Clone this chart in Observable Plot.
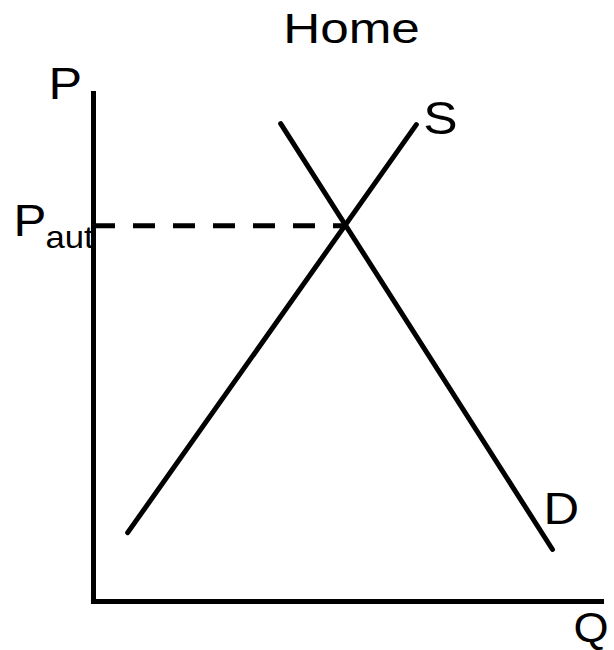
<!DOCTYPE html>
<html><head><meta charset="utf-8">
<script src="https://cdn.jsdelivr.net/npm/d3@7"></script>
<script src="https://cdn.jsdelivr.net/npm/@observablehq/plot@0.6"></script>
<style>body{margin:0;background:#fff} svg{display:block}</style>
</head><body><div id="chart"></div>
<script>
const title = "Home";
const supplyQ = [0.67, 6.33];
const supplyP = [1.35, 9.35];
const demandQ = [3.67, 9.0];
const demandP = [9.37, 1.02];
const pAut = 7.37;
const qAut = 4.92;
const qMax = 10;
const pMax = 10;
const labelP = "P", labelQ = "Q", labelS = "S", labelD = "D", labelAut = "aut";

const supply = supplyQ.map((q, i) => ({q, p: supplyP[i]}));
const demand = demandQ.map((q, i) => ({q, p: demandP[i]}));
const font = "Liberation Sans, Arial, Helvetica, sans-serif";
const last = a => a[a.length - 1];

const chart = Plot.plot({
  width: 614, height: 650, margin: 0,
  style: {background: "white", fontFamily: font},
  x: {domain: [-93/51, 521/51], axis: null},
  y: {domain: [-49/51, 601/51], axis: null},
  marks: [
    Plot.ruleX([0], {y1: -0.04, y2: pMax, stroke: "black", strokeWidth: 5}),
    Plot.ruleY([0], {x1: -0.04, x2: qMax + 0.02, stroke: "black", strokeWidth: 5}),
    Plot.ruleY([pAut], {x1: 0, x2: qAut, stroke: "black", strokeWidth: 5, strokeDasharray: "22,18"}),
    Plot.line(supply, {x: "q", y: "p", stroke: "black", strokeWidth: 5}),
    Plot.line(demand, {x: "q", y: "p", stroke: "black", strokeWidth: 5}),
    Plot.text([title], {frameAnchor: "top", dx: 44, dy: 42, lineAnchor: "bottom", fontSize: 42, fill: "black"}),
    Plot.text([labelP], {x: [0], y: [pMax], dx: -45, dy: 7, textAnchor: "start", lineAnchor: "bottom", fontSize: 45, fill: "black"}),
    Plot.text([labelP], {x: [0], y: [pAut], dx: -80, dy: 10, textAnchor: "start", lineAnchor: "bottom", fontSize: 44, fill: "black"}),
    Plot.text([labelAut], {x: [0], y: [pAut], dx: -48, dy: 22, textAnchor: "start", lineAnchor: "bottom", fontSize: 31, fill: "black"}),
    Plot.text([labelS], {x: [last(supplyQ)], y: [last(supplyP)], dx: 7, dy: 9, textAnchor: "start", lineAnchor: "bottom", fontSize: 46, fill: "black"}),
    Plot.text([labelD], {x: [last(demandQ)], y: [last(demandP)], dx: -9, dy: -25, textAnchor: "start", lineAnchor: "bottom", fontSize: 44, fill: "black"}),
    Plot.text([labelQ], {x: [qMax], y: [0], dx: -30, dy: 40, textAnchor: "start", lineAnchor: "bottom", fontSize: 43, fill: "black"})
  ]
});

// widen glyphs horizontally like the reference lettering
d3.select(chart).selectAll("text").each(function () {
  const t = this.textContent;
  const s = t === title ? 1.22 : (t === labelQ ? 1.05 : 1.12);
  const tr = this.getAttribute("transform");
  if (tr) {
    this.setAttribute("transform", tr + ` scale(${s},1)`);
  } else {
    const x = +(this.getAttribute("x") || 0), y = +(this.getAttribute("y") || 0);
    this.removeAttribute("x"); this.removeAttribute("y");
    this.setAttribute("transform", `translate(${x},${y}) scale(${s},1)`);
  }
});
document.getElementById("chart").appendChild(chart);
</script>
</body></html>
